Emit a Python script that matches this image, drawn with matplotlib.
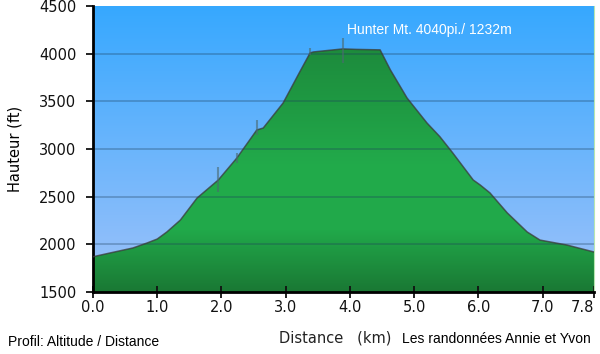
import numpy as np
import matplotlib.pyplot as plt
from matplotlib.colors import LinearSegmentedColormap

# profil (km, pieds)
dist = [0.0, 0.3, 0.62, 0.84, 1.0, 1.15, 1.36, 1.62, 1.95, 2.24, 2.55, 2.65,
        2.96, 3.22, 3.38, 3.43, 3.6, 3.89, 4.1, 4.47, 4.63, 4.89, 5.2, 5.4,
        5.6, 5.92, 6.03, 6.18, 6.45, 6.76, 6.96, 7.38, 7.8]
alt = [1870, 1915, 1962, 2014, 2056, 2130, 2255, 2486, 2675, 2906, 3200, 3220,
       3483, 3810, 4008, 4018, 4030, 4050, 4045, 4040, 3830, 3535, 3273, 3130,
       2960, 2675, 2622, 2540, 2330, 2130, 2045, 1993, 1920]

# marqueurs de points de passage (km, bas, haut)
mark_x = [1.95, 2.24, 2.55, 3.38, 3.89]
mark_lo = [2550, 2850, 3150, 3990, 3905]
mark_hi = [2812, 2960, 3305, 4060, 4165]

xticks = [0.0, 1.0, 2.0, 3.0, 4.0, 5.0, 6.0, 7.0, 7.8]
yticks = [1500, 2000, 2500, 3000, 3500, 4000, 4500]

fig = plt.figure(figsize=(6, 3.54), dpi=100)
ax = fig.add_axes([0.155, 0.175, 0.835, 0.808])
ax.set_xlim(0, 7.8)
ax.set_ylim(1500, 4500)

# fond bleu en degrade
sky = LinearSegmentedColormap.from_list('sky', ['#9fc2f9', '#36a8ff'])
grad = np.linspace(0, 1, 256).reshape(-1, 1)
ax.imshow(grad, cmap=sky, origin='lower', aspect='auto',
          extent=[0, 7.8, 1500, 4500], zorder=0)

# remplissage vert en degrade, coupe par le profil
green = LinearSegmentedColormap.from_list(
    'green', ['#1a7834', '#21a94a', '#22ab4b', '#1f9a43', '#1d8a3c'])
im = ax.imshow(grad, cmap=green, origin='lower', aspect='auto',
               extent=[0, 7.8, 1500, 4100], zorder=1)
poly = ax.fill_between(dist, alt, 1500, color='none', zorder=1)
im.set_clip_path(poly.get_paths()[0], transform=ax.transData)

for y in yticks[1:-1]:
    ax.axhline(y, color='#1c3f5c', alpha=0.35, lw=1.2, zorder=2)

ax.plot(dist, alt, color='#3a3a3a', lw=1.1, alpha=0.75, zorder=3)
ax.vlines(mark_x, mark_lo, mark_hi, color='#4a6a70', lw=1.5, alpha=0.6, zorder=3)

ax.text(3.95, 4250, 'Hunter Mt. 4040pi./ 1232m', color='white',
        family='Liberation Sans', fontsize=10, ha='left', va='center')

ax.set_xticks(xticks)
ax.set_xticklabels(['%.1f' % v for v in xticks])
ax.get_xticklabels()[-1].set_ha('right')
ax.set_yticks(yticks)
ax.tick_params(axis='x', direction='inout', length=8, width=1.3, labelsize=10.5,
               pad=2, colors='#111111')
ax.tick_params(axis='y', direction='out', length=5, width=1.3, labelsize=10.5,
               pad=7, colors='#111111')
ax.spines['top'].set_visible(False)
ax.spines['right'].set_color('#b6e6b0')
ax.spines['left'].set_linewidth(2)
ax.spines['bottom'].set_linewidth(2)

ax.set_ylabel('Hauteur (ft)', fontsize=10.5, labelpad=12)

fig.text(0.013, 0.035, 'Profil: Altitude / Distance', family='Liberation Sans',
         fontsize=10, ha='left', va='center')
fig.text(0.465, 0.045, 'Distance   (km)', fontsize=10.5, ha='left',
         va='center', color='#222222')
fig.text(0.67, 0.043, 'Les randonnées Annie et Yvon', family='Liberation Sans',
         fontsize=10, ha='left', va='center')

fig.savefig('out.png', dpi=100)
